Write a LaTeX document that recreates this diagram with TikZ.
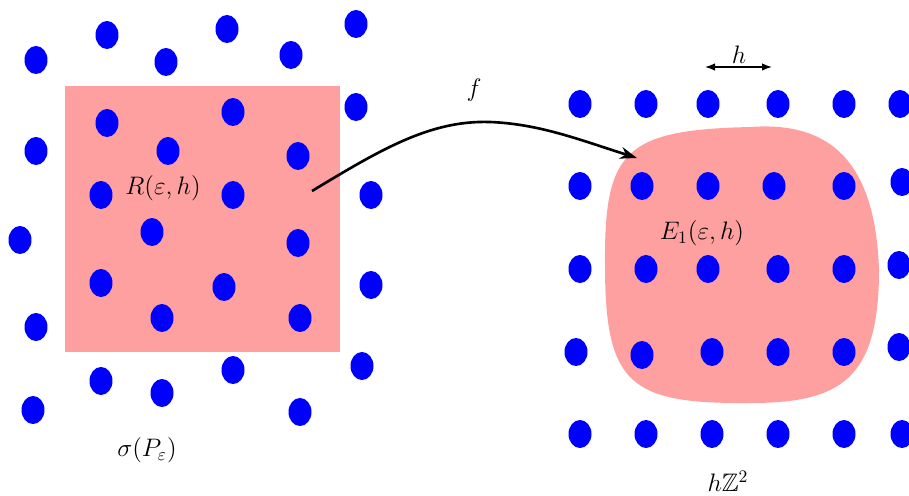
\documentclass[tikz,border=0pt]{standalone}
\usepackage{amsmath,amssymb}
\usepackage{tikz}
\usetikzlibrary{arrows.meta, calc}
\definecolor{rosy}{RGB}{255,160,160}
\tikzset{
  dot/.style ={fill=blue},
  reg/.style ={fill=rosy},
  ar/.style  ={-{Stealth[length=3.4mm,width=2.4mm]}, line width=1.5pt},
  dbl/.style ={{Latex[length=2mm,width=1.5mm]}-{Latex[length=2mm,width=1.5mm]}, thick},
  lbl/.style ={font=\Large, inner sep=0pt},
}
\begin{document}
\begin{tikzpicture}[x=0.02cm, y=-0.02cm]
\useasboundingbox (0,0) rectangle (909,496);
% left: the perturbed points and the square
\fill[reg] (65,86) rectangle (340,352);
\foreach \x/\y in {36/60,107/35,166/62,227/29,291/55,356/24,
                   356/107,107/123,233/112,
                   36/151,168/151,298/156,
                   101/195,233/195,371/195,
                   20/240,152/232,298/243,
                   101/283,224/287,371/285,
                   36/327,162/318,300/318,
                   233/370,362/366,101/381,162/393,33/410,300/412}
  \fill[dot] (\x,\y) ellipse (2.3mm and 2.8mm);
\node[lbl] (rlab) at (163,188) {$R(\varepsilon,h)$};
\node[lbl] (slab) at (147,450) {$\sigma(P_\varepsilon)$};
% right: the image set and the lattice
\fill[reg] (605,265) .. controls (604,150) and (625,130) .. (750,127)
                     .. controls (820,122) and (875,150) .. (879,270)
                     .. controls (879,380) and (840,403) .. (750,403)
                     .. controls (630,404) and (605,385) .. cycle;
\foreach \x/\y in {580/104,646/104,708/104,778/104,844/104,900/104,
                   580/186,642/186,708/186,774/186,844/186,902/182,
                   580/269,646/269,708/269,778/269,844/269,899/265,
                   576/352,642/355,712/352,778/352,844/352,899/347,
                   580/434,646/434,712/434,778/434,844/434,902/434}
  \fill[dot] (\x,\y) ellipse (2.3mm and 2.8mm);
\node[lbl] (elab) at (702,233) {$E_1(\varepsilon,h)$};
\node[lbl] (zlab) at (728,481) {$h\mathbb{Z}^2$};
% spacing h
\coordinate (hl) at (705,67);
\coordinate (hr) at (772,67);
\draw[dbl] (hl) -- (hr);
\node[lbl] (hlab) at (739,55) {$h$};
% the map f
\coordinate (src) at (312,191);
\coordinate (dst) at (637,158);
\draw[ar] (src) .. controls (380,150) and (430,120) .. (490,122)
                .. controls (540,124) and (580,140) .. (dst);
\node[lbl] (flab) at (474,90) {$f$};
\end{tikzpicture}
\end{document}
